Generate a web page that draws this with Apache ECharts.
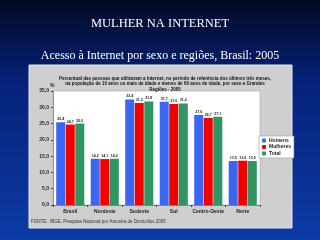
<!DOCTYPE html>
<html>
<head>
<meta charset="utf-8">
<script src="https://cdn.jsdelivr.net/npm/echarts@6/dist/echarts.min.js"></script>
<style>
  html, body { margin: 0; padding: 0; }
  #chart { width: 320px; height: 240px; }
</style>
</head>
<body>
<div id="chart"></div>
<script>
// dados
var regioes = ["Brasil", "Nordeste", "Sudeste", "Sul", "Centro-Oeste", "Norte"];
var homens = [25.4, 14.2, 32.4, 31.7, 27.6, 13.5];
var mulheres = [24.7, 14.1, 31.3, 31.0, 26.7, 13.6];
var total = [25.0, 14.2, 31.8, 31.2, 27.1, 13.5];

var fmt = function (v) {
  return v.toFixed(1).replace(".", ",");
};

var chart = echarts.init(document.getElementById("chart"));

function barSerie(name, data, color) {
  return {
    name: name,
    type: "bar",
    data: data,
    barWidth: 9,
    barGap: "6%",
    itemStyle: { color: color },
    label: {
      show: true,
      position: "top",
      distance: 1,
      fontSize: 3.6,
      fontWeight: "bold",
      color: "#222",
      formatter: function (p) { return fmt(p.value); }
    }
  };
}

chart.setOption({
  animation: false,
  backgroundColor: {
    type: "linear", x: 0, y: 0, x2: 0, y2: 1,
    colorStops: [
      { offset: 0, color: "#020a24" },
      { offset: 0.35, color: "#06227a" },
      { offset: 1, color: "#0c3ba6" }
    ]
  },
  title: [
    {
      text: "MULHER NA INTERNET",
      left: "center",
      top: 12,
      textStyle: { color: "#fff", fontFamily: "Liberation Serif", fontSize: 12.5, fontWeight: "normal" }
    },
    {
      text: "Acesso à Internet por sexo e regiões, Brasil: 2005",
      left: "center",
      top: 45,
      textStyle: { color: "#fff", fontFamily: "Liberation Serif", fontSize: 12, fontWeight: "normal" }
    },
    {
      text: "Percentual das pessoas que utilizaram a Internet, no período de referência dos últimos três meses,\nna população de 10 anos ou mais de idade e menos de 60 anos de idade, por sexo e Grandes\nRegiões - 2005",
      left: 160,
      textAlign: "center",
      top: 71,
      textStyle: { color: "#111", fontFamily: "Liberation Sans", fontSize: 4.5, fontWeight: "bold", lineHeight: 5.5 }
    }
  ],
  graphic: [
    {
      type: "rect",
      z: -10,
      shape: { x: 29, y: 65, width: 263, height: 163 },
      style: { fill: "#cfcfcf", stroke: "#e6e6e6", lineWidth: 1 }
    },
    {
      type: "text",
      left: 31,
      top: 219,
      style: { text: "FONTE:  IBGE, Pesquisa Nacional por Amostra de Domicílios 2005", fill: "#333", font: "4.5px Liberation Sans" }
    },
    {
      type: "text",
      left: 50,
      top: 83,
      style: { text: "%", fill: "#222", font: "bold 5px Liberation Sans" }
    }
  ],
  legend: {
    orient: "vertical",
    left: 259,
    top: 136,
    itemWidth: 4,
    itemHeight: 4,
    itemGap: 1.5,
    padding: [2, 3],
    backgroundColor: "#fff",
    borderColor: "#888",
    borderWidth: 0.5,
    textStyle: { fontSize: 5, fontWeight: "bold", color: "#222", padding: [0, 0, 0, -2] },
    data: ["Homens", "Mulheres", "Total"]
  },
  grid: {
    left: 53,
    right: 60,
    top: 91,
    bottom: 35,
    show: true,
    backgroundColor: "#fff",
    borderColor: "#999",
    borderWidth: 0.5
  },
  xAxis: {
    type: "category",
    data: regioes,
    axisTick: { show: true, length: 2, lineStyle: { color: "#444" } },
    axisLine: { lineStyle: { color: "#444", width: 0.5 } },
    axisLabel: { interval: 0, fontSize: 5, fontWeight: "bold", color: "#222", margin: 4 }
  },
  yAxis: {
    type: "value",
    min: 0,
    max: 35,
    interval: 5,
    axisLine: { show: true, lineStyle: { color: "#444", width: 0.5 } },
    axisTick: { show: true, length: 2, lineStyle: { color: "#444" } },
    splitLine: { show: false },
    axisLabel: { fontSize: 5, fontWeight: "bold", color: "#222", margin: 4, formatter: fmt }
  },
  series: [
    barSerie("Homens", homens, "#3b66f2"),
    barSerie("Mulheres", mulheres, "#f20000"),
    barSerie("Total", total, "#2f9563")
  ]
});
</script>
</body>
</html>
